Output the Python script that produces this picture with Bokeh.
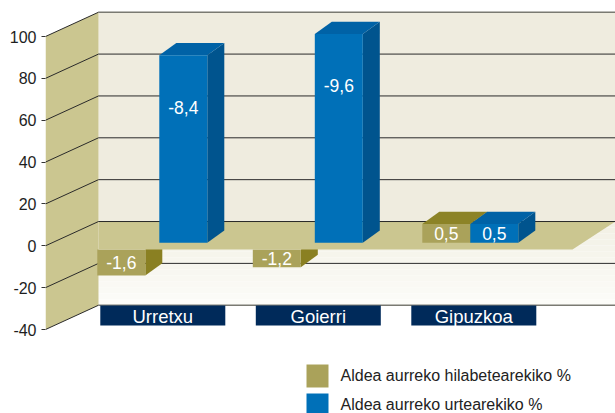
from bokeh.plotting import figure
from bokeh.models import Range1d, FixedTicker
from bokeh.embed import file_html
from bokeh.resources import INLINE
from bokeh.core.properties import value

# ---------------- data ----------------
categories = ["Urretxu", "Goierri", "Gipuzkoa"]
series_names = ["Aldea aurreko hilabetearekiko %", "Aldea aurreko urtearekiko %"]
month_labels = ["-1,6", "-1,2", "0,5"]
year_labels = ["-8,4", "-9,6", "0,5"]
month_bar = [-12.4, -8.4, 9.0]     # bar heights as read on the axis
year_bar = [89.6, 99.8, 9.0]
y_ticks = [-40, -20, 0, 20, 40, 60, 80, 100]

# ---------------- layout / style constants ----------------
W, H = 615, 413
PXU = 2.093          # pixels per axis unit
ZERO = 245.3         # pixel row of 0 on the front axis


def U(px):
    return (ZERO - px) / PXU


AX_X = 45.0
WALL_X = 98.0
BACK_DV = 11.6
DEPTH_DX, DEPTH_DV = 17.0, 12.3 / PXU
CX0, CSTEP = 162.3, 155.5
BAR_W = 48.0
BLUE_OFF = -3.5
NEG_GAP = 14.0
POS_BASE, NEG_BASE = 1.4, -1.8
FONT = "Liberation Sans"

WALL_COL = "#efecdf"
SIDE_COL = "#cbc690"
OLIVE = ("#aaa25a", "#8a8022", "#8c8326")   # front, side, top
BLUE = ("#0070b8", "#00548e", "#0062a6")
NAVY = "#002a5a"

p = figure(width=W, height=H, x_range=Range1d(AX_X, W), y_range=Range1d(U(H), U(0)),
           x_axis_location=None, y_axis_location="left", toolbar_location=None,
           output_backend="svg", min_border_left=45, min_border_right=0,
           min_border_top=0, min_border_bottom=0)
p.outline_line_color = None
p.grid.visible = False
p.background_fill_color = "white"
p.border_fill_color = "white"

ax = p.yaxis[0]
ax.ticker = FixedTicker(ticks=y_ticks)
ax.major_label_overrides = {t: str(t) for t in y_ticks}
ax.axis_line_color = None
ax.major_tick_in = 0
ax.major_tick_out = 4
ax.major_tick_line_color = "#333333"
ax.minor_tick_line_color = None
ax.major_label_text_font = FONT
ax.major_label_text_font_size = "16px"
ax.major_label_text_color = "#1e1e1e"
ax.major_label_standoff = 5

top_b, bot_b = y_ticks[-1] + BACK_DV, y_ticks[0] + BACK_DV
floor_b = 0 + BACK_DV

# back wall upper
p.quad(left=[WALL_X], right=[W], top=[top_b], bottom=[floor_b], fill_color=WALL_COL, line_color=None)
# back wall lower (soft gradient)
n = 14
c0, c1 = (242, 240, 229), (252, 252, 248)
for i in range(n):
    f = i / (n - 1)
    col = "#%02x%02x%02x" % tuple(int(round(a + (b - a) * f)) for a, b in zip(c0, c1))
    t = floor_b + (bot_b - floor_b) * i / n
    b = floor_b + (bot_b - floor_b) * (i + 1) / n
    p.quad(left=[WALL_X], right=[W], top=[t], bottom=[b], fill_color=col, line_color=None)

# side wall
p.patch([AX_X, WALL_X, WALL_X, AX_X], [y_ticks[-1], top_b, bot_b, y_ticks[0]],
        fill_color=SIDE_COL, line_color=None)

# gridlines on back wall and diagonals on side wall
for t in y_ticks:
    edge = t in (y_ticks[0], y_ticks[-1])
    p.segment(x0=[WALL_X], y0=[t + BACK_DV], x1=[W], y1=[t + BACK_DV],
              line_color="#7a7a72" if edge else "#2a2a2a", line_width=1.6 if edge else 1)
    p.segment(x0=[AX_X], y0=[t], x1=[WALL_X], y1=[t + BACK_DV], line_color="#2a2a2a", line_width=1)


def bar_geom(i, series):
    cx = CX0 + CSTEP * i
    bl = cx + BLUE_OFF
    if series == 1:
        h = year_bar[i]
        x0 = bl
    else:
        h = month_bar[i]
        x0 = bl - BAR_W - (NEG_GAP if h < 0 else 0)
    base = POS_BASE if h >= 0 else NEG_BASE
    return x0, x0 + BAR_W, base, base + h


def draw_bar(i, series):
    x0, x1, base, tip = bar_geom(i, series)
    front, side, top = OLIVE if series == 0 else BLUE
    lo, hi = min(base, tip), max(base, tip)
    # side face
    p.patch([x1, x1, x1 + DEPTH_DX, x1 + DEPTH_DX], [lo, hi, hi + DEPTH_DV, lo + DEPTH_DV],
            fill_color=side, line_color=None)
    if tip >= base:
        p.patch([x0, x1, x1 + DEPTH_DX, x0 + DEPTH_DX], [hi, hi, hi + DEPTH_DV, hi + DEPTH_DV],
                fill_color=top, line_color=None)
    p.quad(left=[x0], right=[x1], top=[hi], bottom=[lo], fill_color=front, line_color=None)


bars = [(i, s) for i in range(len(categories)) for s in (0, 1)]
neg = [(i, s) for i, s in bars if (month_bar if s == 0 else year_bar)[i] < 0]
pos = [(i, s) for i, s in bars if (month_bar if s == 0 else year_bar)[i] >= 0]

for i, s in neg:
    draw_bar(i, s)

# floor
p.patch([WALL_X, W, W - 43, WALL_X], [floor_b, floor_b, NEG_BASE, NEG_BASE],
        fill_color=SIDE_COL, line_color=None)
p.segment(x0=[WALL_X], y0=[floor_b], x1=[W], y1=[floor_b], line_color="#2a2a2a", line_width=1)

for i, s in pos:
    draw_bar(i, s)

# value labels
lx, ly, lt = [], [], []
for i, s in bars:
    x0, x1, base, tip = bar_geom(i, s)
    lx.append((x0 + x1) / 2)
    if abs(tip - base) > 30:
        ly.append(tip - 24.7)
    else:
        ly.append((base + tip) / 2)
    lt.append((month_labels if s == 0 else year_labels)[i])
p.text(x=lx, y=ly, text=lt, text_font=value(FONT), text_font_size="17.5px",
       text_color="white", text_align="center", text_baseline="middle")

# category boxes
cxs = [CX0 + CSTEP * i for i in range(len(categories))]
p.quad(left=[c - 62.5 for c in cxs], right=[c + 62.5 for c in cxs],
       top=[U(305)] * len(cxs), bottom=[U(325)] * len(cxs), fill_color=NAVY, line_color=None)
p.text(x=cxs, y=[U(315.5)] * len(cxs), text=categories, text_font=value(FONT),
       text_font_size="18.5px", text_color="white", text_align="center", text_baseline="middle")

# legend
leg_cols = [OLIVE[0], BLUE[0]]
leg_top = [364, 393]
for k in range(2):
    p.quad(left=[306], right=[328], top=[U(leg_top[k])], bottom=[U(leg_top[k] + 23)],
           fill_color=leg_cols[k], line_color=None)
p.text(x=[340, 340], y=[U(t + 11) for t in leg_top], text=series_names, text_font=value(FONT),
       text_font_size="16px", text_color="#222222", text_align="left", text_baseline="middle")

open("out.html", "w").write(file_html(p, INLINE))
